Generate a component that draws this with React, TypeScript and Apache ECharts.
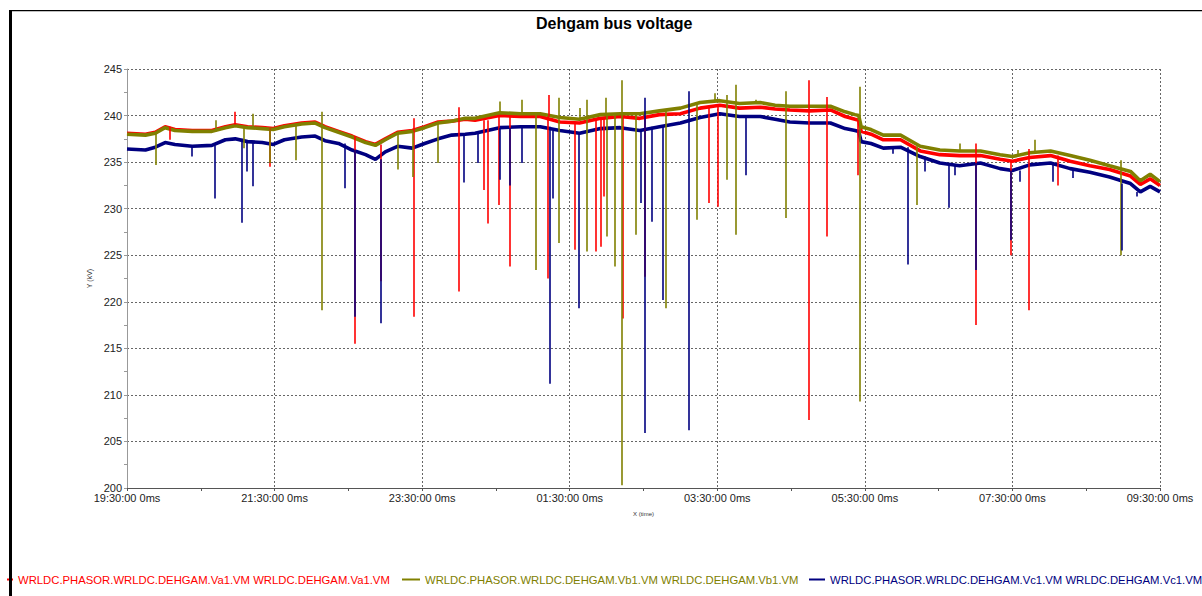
import React, { useEffect, useRef } from "react";
import * as echarts from "echarts";

// Baseline sample times (clock, starting 19:30 and running past midnight to 09:30)
const TIMES = ["19:30","19:45","19:53","20:01","20:09","20:23","20:39","20:50","20:58","21:08","21:20","21:29","21:38","21:52","22:03","22:11","22:22","22:33","22:44","22:52","23:00","23:10","23:22","23:32","23:43","23:54","00:05","00:13","00:33","00:50","01:06","01:22","01:38","01:55","02:11","02:27","02:43","03:00","03:16","03:32","03:48","04:05","04:17","04:29","04:45","05:02","05:14","05:22","05:25","05:27","05:35","05:45","05:59","06:15","06:31","06:47","07:04","07:20","07:30","07:44","08:01","08:17","08:33","08:49","09:06","09:14","09:22","09:30"];

// Phase voltages (kV)
const VA = [238.1,238.0,238.2,238.8,238.5,238.4,238.4,238.8,239.0,238.8,238.7,238.6,238.9,239.2,239.3,238.8,238.3,237.8,237.2,236.9,237.5,238.2,238.4,238.8,239.3,239.4,239.6,239.5,240.0,239.9,239.9,239.3,239.2,239.7,239.9,239.7,240.1,240.2,240.8,241.1,240.8,240.9,240.7,240.6,240.5,240.6,239.9,239.6,239.5,238.3,238.0,237.4,237.4,236.2,235.8,235.7,235.7,235.3,235.1,235.5,235.7,235.1,234.6,234.2,233.5,232.6,233.2,232.5];
const VB = [238.0,237.9,238.1,238.7,238.4,238.3,238.3,238.7,238.9,238.7,238.6,238.5,238.8,239.1,239.2,238.7,238.2,237.7,237.1,236.8,237.4,238.1,238.3,238.7,239.2,239.4,239.7,239.7,240.3,240.2,240.2,239.8,239.6,240.1,240.2,240.2,240.5,240.8,241.4,241.6,241.3,241.4,241.1,241.0,241.0,241.0,240.4,240.1,240.0,238.8,238.5,237.9,237.9,236.7,236.3,236.2,236.2,235.8,235.6,236.0,236.2,235.7,235.2,234.6,234.0,233.0,233.7,232.9];
const VC = [236.4,236.3,236.6,237.1,236.9,236.7,236.8,237.4,237.5,237.2,237.1,236.9,237.4,237.7,237.8,237.3,237.0,236.3,235.8,235.3,236.1,236.7,236.5,237.0,237.5,237.9,238.0,238.1,238.7,238.8,238.8,238.4,238.1,238.6,238.7,238.4,238.8,239.2,239.8,240.2,239.9,239.9,239.6,239.3,239.2,239.2,238.6,238.4,238.3,237.2,237.0,236.5,236.6,235.6,234.9,234.6,234.9,234.3,234.1,234.7,234.9,234.3,233.9,233.4,232.7,231.8,232.4,231.8];

// Momentary spikes: [clock, extreme value kV]
const VA_SPIKES: [string, number][] = [["20:05",237.4],["20:58",240.4],["21:26",234.5],["22:35",215.5],["22:56",222.2],["23:23",218.4],["23:23",239.7],["00:00",221.1],["00:00",240.9],["00:20",232.0],["00:23",228.4],["00:32",230.4],["00:41",223.8],["01:12",222.5],["01:13",242.2],["01:34",225.6],["01:51",225.4],["01:55",225.9],["01:58",231.3],["02:13",218.2],["02:31",222.7],["03:23",230.6],["03:30",230.2],["04:44",207.3],["04:44",243.8],["04:59",227.0],["04:59",242.0],["05:24",233.6],["07:00",217.5],["07:00",237.0],["07:29",225.0],["07:43",219.1],["07:43",236.4],["08:07",232.5]];
const VB_SPIKES: [string, number][] = [["19:53",234.7],["20:42",239.5],["21:05",236.5],["21:12",240.2],["21:26",234.9],["21:47",235.2],["22:08",219.1],["22:08",240.4],["23:10",234.2],["23:22",233.4],["23:43",234.9],["00:33",241.5],["00:51",241.7],["01:02",223.4],["01:21",226.3],["01:21",241.9],["01:38",240.8],["01:44",225.4],["01:44",241.7],["01:59",241.9],["02:00",227.0],["02:07",223.8],["02:12",200.3],["02:12",243.8],["02:24",227.2],["02:48",219.3],["03:13",228.8],["03:28",242.4],["03:38",233.1],["03:38",242.2],["03:45",227.2],["03:45",243.3],["04:01",241.7],["04:26",229.0],["04:26",242.6],["05:26",209.3],["05:26",243.1],["06:12",230.4],["06:47",237.0],["07:34",236.3],["07:48",237.4],["08:58",225.0],["08:58",235.2]];
const VC_SPIKES: [string, number][] = [["20:23",235.6],["20:41",231.1],["21:03",228.5],["21:07",234.0],["21:12",232.4],["22:27",232.2],["22:35",218.4],["22:56",217.7],["00:04",232.8],["00:15",234.9],["00:33",233.1],["00:41",232.5],["00:51",234.9],["01:14",211.2],["01:16",231.1],["01:37",219.3],["02:28",230.6],["02:31",205.9],["02:31",241.9],["02:37",228.6],["02:46",220.2],["03:07",206.2],["03:07",242.6],["03:53",233.6],["05:53",235.9],["06:05",224.0],["06:19",234.0],["06:38",230.1],["06:43",233.6],["07:00",223.4],["07:29",226.6],["07:36",232.9],["08:03",232.9],["08:19",233.3],["08:59",225.5],["09:11",231.3]];

const NAMES = [
  "WRLDC.PHASOR.WRLDC.DEHGAM.Va1.VM WRLDC.DEHGAM.Va1.VM",
  "WRLDC.PHASOR.WRLDC.DEHGAM.Vb1.VM WRLDC.DEHGAM.Vb1.VM",
  "WRLDC.PHASOR.WRLDC.DEHGAM.Vc1.VM WRLDC.DEHGAM.Vc1.VM",
];
const COLORS = ["#ff0000", "#808000", "#000080"];

const START = 19 * 60 + 30;
const toMin = (s: string) => {
  const [h, m] = s.split(":").map(Number);
  let v = h * 60 + m - START;
  if (v < 0) v += 1440;
  return v;
};
const pad = (n: number) => (n < 10 ? "0" + n : "" + n);
const clock = (v: number) => {
  const t = (START + v) % 1440;
  return pad(Math.floor(t / 60)) + ":" + pad(t % 60) + ":00 0ms";
};

const FONT = "'Liberation Sans', Arial, sans-serif";

export default function App() {
  const ref = useRef<HTMLDivElement>(null);
  useEffect(() => {
    if (!ref.current) return;
    const chart = echarts.init(ref.current, undefined, { renderer: "svg" });
    const xs = TIMES.map(toMin);
    const nearest = (x: number, vals: number[]) => {
      let bi = 0;
      for (let i = 1; i < xs.length; i++) if (Math.abs(xs[i] - x) < Math.abs(xs[bi] - x)) bi = i;
      return vals[bi];
    };
    const mk = (i: number, vals: number[], spikes: [string, number][]) => ({
      name: NAMES[i],
      type: "line",
      showSymbol: false,
      symbol: "none",
      color: COLORS[i],
      lineStyle: { width: 3.6, color: COLORS[i] },
      data: xs.map((x, k) => [x, vals[k]]),
      markLine: {
        silent: true,
        symbol: ["none", "none"],
        label: { show: false },
        lineStyle: { type: "solid", width: 1.6, color: COLORS[i] },
        emphasis: { disabled: true },
        data: spikes.map(([t, v]) => {
          const x = toMin(t);
          return [{ coord: [x, nearest(x, vals)] }, { coord: [x, v] }];
        }),
      },
    });
    const legendAt = (i: number, left: number, w: number) => ({
      data: [NAMES[i]],
      left,
      top: 569,
      icon: "rect",
      itemWidth: w,
      itemHeight: 2,
      selectedMode: false,
      textStyle: { color: COLORS[i], fontSize: 11.3, fontFamily: FONT },
    });
    chart.setOption({
      animation: false,
      backgroundColor: "#ffffff",
      title: {
        text: "Dehgam bus voltage",
        left: 531,
        top: 10,
        textStyle: { fontSize: 16, fontWeight: "bold", color: "#000", fontFamily: FONT },
      },
      legend: [legendAt(0, 2, 6), legendAt(1, 397, 18), legendAt(2, 804, 16)],
      grid: { left: 127, top: 69, width: 1033, height: 419, containLabel: false },
      xAxis: {
        type: "value",
        min: 0,
        max: 840,
        interval: 120,
        name: "X (time)",
        nameLocation: "middle",
        nameGap: 23,
        nameTextStyle: { fontSize: 6, color: "#333", fontFamily: FONT },
        axisLine: { show: true, onZero: false, lineStyle: { color: "#555", width: 1 } },
        axisTick: { show: true, length: 3, lineStyle: { color: "#555" } },
        minorTick: { show: true, splitNumber: 2, length: 3, lineStyle: { color: "#555" } },
        axisLabel: { formatter: (v: number) => clock(v), fontSize: 11, color: "#222", margin: 4, fontFamily: FONT },
        splitLine: { show: true, lineStyle: { type: [2, 2], color: "#666", width: 1 } },
      },
      yAxis: {
        type: "value",
        min: 200,
        max: 245,
        interval: 5,
        name: "Y (kV)",
        nameLocation: "middle",
        nameRotate: 90,
        nameGap: 32,
        nameTextStyle: { fontSize: 7, color: "#333", fontFamily: FONT },
        axisLine: { show: true, lineStyle: { color: "#999", width: 1 } },
        axisTick: { show: true, length: 3, lineStyle: { color: "#999" } },
        minorTick: { show: true, splitNumber: 2, length: 3, lineStyle: { color: "#999" } },
        axisLabel: { fontSize: 11, color: "#222", margin: 5, fontFamily: FONT },
        splitLine: { show: true, lineStyle: { type: [2, 2], color: "#666", width: 1 } },
      },
      graphic: [
        { type: "rect", left: 9, top: 10, shape: { width: 3, height: 586 }, style: { fill: "#000" }, z: 100 },
        { type: "rect", left: 9, top: 10, shape: { width: 1193, height: 1.2 }, style: { fill: "#000" }, z: 100 },
      ],
      series: [mk(0, VA, VA_SPIKES), mk(1, VB, VB_SPIKES), mk(2, VC, VC_SPIKES)],
    });
    return () => chart.dispose();
  }, []);
  return (
    <div
      ref={ref}
      style={{ position: "absolute", left: 0, top: 0, width: 1202, height: 596, background: "#fff" }}
    />
  );
}
